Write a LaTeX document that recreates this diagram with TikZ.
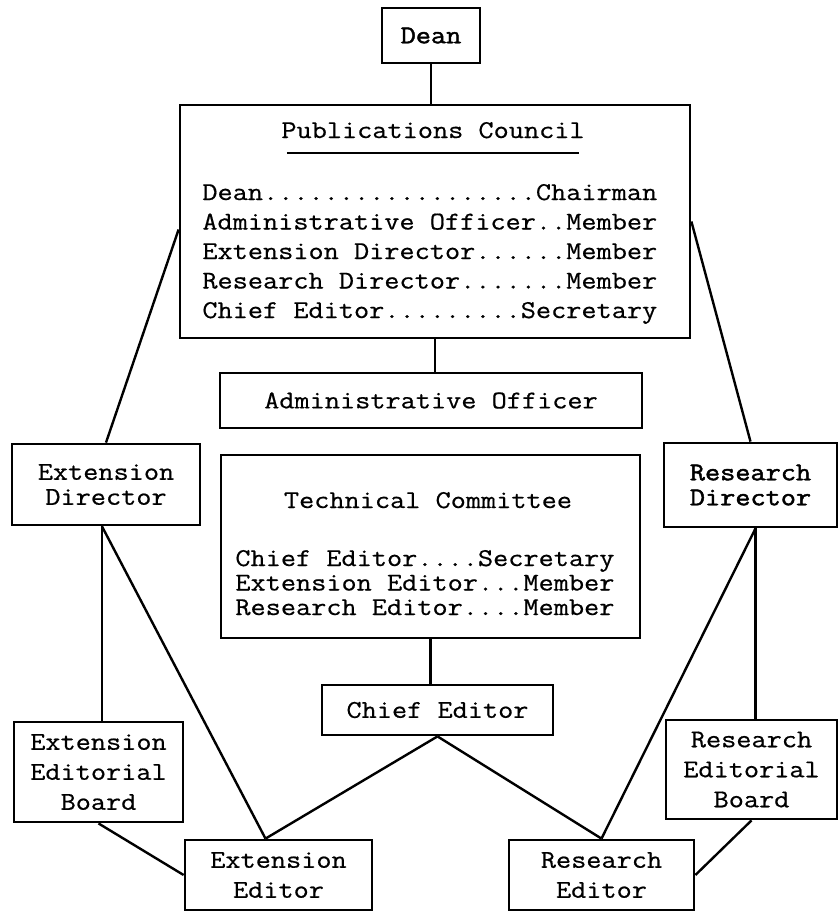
\documentclass[tikz,border=0pt]{standalone}
\usepackage{fontspec}

% Typewriter text used in every box
\newfontfamily\typeface[FakeStretch=1.15, FakeBold=0.6]{Latin Modern Mono}
\newfontfamily\typefaceheavy[FakeStretch=1.15, FakeBold=1.8]{Latin Modern Mono}
\newcommand{\typefont}{\fontsize{12.8}{15}\selectfont\typeface}
\newcommand{\typefonttight}{\fontsize{12.8}{12.5}\selectfont\typeface}

\tikzset{
    orgbox/.style={draw=borderColour, line width=1.4pt, inner sep=0pt, align=center, font=\typefont},
    link/.style={draw=borderColour, line width=1.2pt},
    rowtext/.style={inner sep=0pt, anchor=base west, font=\typefont}
}

\begin{document}
\begin{tikzpicture}[x=0.5pt, y=-0.5pt]
    \definecolor{borderColour}{HTML}{000000}

    % Fix the page size
    \useasboundingbox (0,0) rectangle (839,912);

    % Draw the boxes
    \node[orgbox, minimum width=49pt, minimum height=27.5pt, font=\typefont\typefaceheavy] (dean) at (431,35.5) {Dean};
    \node[orgbox, minimum width=255pt, minimum height=116.5pt] (council) at (435,221.5) {};
    \node[orgbox, minimum width=211pt, minimum height=27.5pt] (admin) at (431,400.5) {Administrative Officer};
    \node[orgbox, minimum width=209.5pt, minimum height=91.5pt] (tech) at (430.5,546.5) {};
    \node[orgbox, minimum width=94pt, minimum height=40.5pt, font=\typefonttight] (extdir) at (106,484.5) {Extension\\Director};
    \node[orgbox, minimum width=86.5pt, minimum height=42pt, font=\typefonttight\typefaceheavy] (resdir) at (750.5,485) {Research\\Director};
    \node[orgbox, minimum width=115.5pt, minimum height=25pt] (chief) at (437.5,710) {Chief Editor};
    \node[orgbox, minimum width=84.5pt, minimum height=50pt] (extboard) at (98.5,772) {Extension\\Editorial\\Board};
    \node[orgbox, minimum width=85.5pt, minimum height=49.5pt] (resboard) at (751.5,769.5) {Research\\Editorial\\Board};
    \node[orgbox, minimum width=93.5pt, minimum height=35pt] (exted) at (278.5,875) {Extension\\Editor};
    \node[orgbox, minimum width=92.5pt, minimum height=35pt] (resed) at (601.5,875) {Research\\Editor};

    % Publications Council members
    \node[rowtext, anchor=base] (pctitle) at (433,138) {Publications Council};
    \draw[link] ([xshift=3pt,yshift=-7.5pt]pctitle.base west) -- ([xshift=-3pt,yshift=-7.5pt]pctitle.base east);
    \node[rowtext] (pcrow1) at (202,200) {Dean..................Chairman};
    \node[rowtext] (pcrow2) at (202,229.5) {Administrative Officer..Member};
    \node[rowtext] (pcrow3) at (202,259) {Extension Director......Member};
    \node[rowtext] (pcrow4) at (202,288.5) {Research Director.......Member};
    \node[rowtext] (pcrow5) at (202,318) {Chief Editor.........Secretary};

    % Technical Committee members
    \node[rowtext, anchor=base] (tctitle) at (428,508) {Technical Committee};
    \node[rowtext] (tcrow1) at (235,566) {Chief Editor....Secretary};
    \node[rowtext] (tcrow2) at (235,590.5) {Extension Editor...Member};
    \node[rowtext] (tcrow3) at (235,615) {Research Editor....Member};

    % Connection points
    \coordinate (extout) at ([xshift=-2pt]extdir.south);
    \coordinate (resout) at ([xshift=2.5pt]resdir.south);
    \coordinate (extin) at ([xshift=-6.5pt]exted.north);

    % Draw the connectors
    \draw[link] (dean.south) -- (dean.south |- council.north);
    \draw[link] (council.south) -- (council.south |- admin.north);
    \draw[link] ([yshift=-4pt]council.west) -- (extdir.north);
    \draw[link] (council.east) -- (resdir.north);
    \draw[link] (extout) -- (extout |- extboard.north);
    \draw[link] (extout) -- (extin);
    \draw[link] (resout) -- (resout |- resboard.north);
    \draw[link] (resout) -- (resed.north);
    \draw[link] (tech.south) -- (tech.south |- chief.north);
    \draw[link] (chief.south) -- (extin);
    \draw[link] (chief.south) -- (resed.north);
    \draw[link] (extboard.south) -- (exted.west);
    \draw[link] (resboard.south) -- (resed.east);

\end{tikzpicture}
\end{document}
